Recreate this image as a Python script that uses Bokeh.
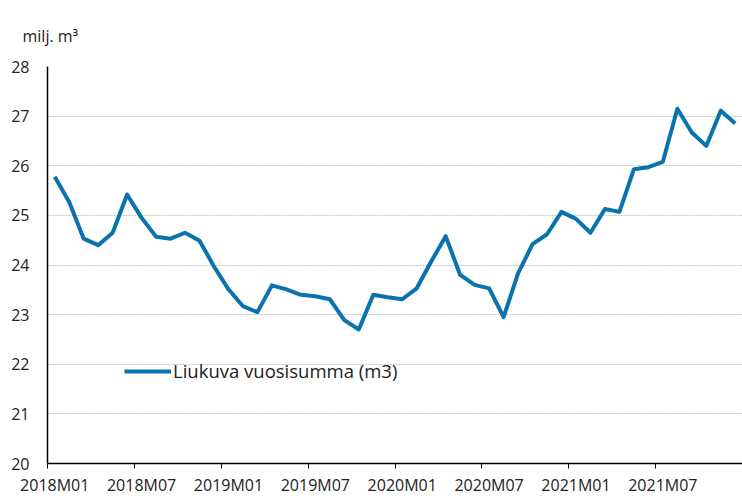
from bokeh.plotting import figure
from bokeh.models import FixedTicker, Range1d
from bokeh.embed import file_html
from bokeh.resources import INLINE

# --- data -------------------------------------------------------------
tick_labels = ["2018M01", "2018M07", "2019M01", "2019M07",
               "2020M01", "2020M07", "2021M01", "2021M07"]
values = [
    # 2018
    25.78, 25.27, 24.53, 24.40, 24.65, 25.42, 24.95, 24.57, 24.53, 24.65, 24.49, 23.97,
    # 2019
    23.51, 23.17, 23.05, 23.59, 23.51, 23.40, 23.37, 23.31, 22.89, 22.70, 23.40, 23.35,
    # 2020
    23.31, 23.53, 24.07, 24.58, 23.80, 23.60, 23.53, 22.95, 23.83, 24.42, 24.62, 25.07,
    # 2021
    24.93, 24.65, 25.13, 25.07, 25.93, 25.97, 26.08, 27.15, 26.67, 26.40, 27.11, 26.85,
]
series_name = "Liukuva vuosisumma (m3)"
y_ticks = [20, 21, 22, 23, 24, 25, 26, 27, 28]
unit_text = "milj. m\u00b3"

x = list(range(len(values)))
label_pos = [i * 6 for i in range(len(tick_labels))]
boundary_pos = [i * 6 - 0.5 for i in range(len(tick_labels))]

FONT = "Open Sans"
TXT = "#222222"
LINE = "#0a72ad"

p = figure(width=742, height=498, output_backend="svg", toolbar_location=None,
           x_range=Range1d(-0.5, len(values) - 0.5), y_range=Range1d(20, 28),
           min_border_left=47, min_border_right=0, min_border_top=66,
           min_border_bottom=30)
p.outline_line_color = None
p.background_fill_color = "white"
p.border_fill_color = "white"

p.line(x, values, line_color=LINE, line_width=4, line_join="round",
       legend_label=series_name)

# unit text as title
p.title.text = unit_text
p.title.align = "left"
p.title.vertical_align = "bottom"
p.title.offset = -25
p.title.standoff = 40
p.title.text_font = FONT
p.title.text_font_size = "16px"
p.title.text_font_style = "normal"
p.title.text_color = TXT

# x axis
xa = p.xaxis[0]
xa.ticker = FixedTicker(ticks=label_pos, minor_ticks=boundary_pos)
xa.major_label_overrides = {pos: lab for pos, lab in zip(label_pos, tick_labels)}
xa.major_tick_out = 0
xa.major_tick_in = 0
xa.minor_tick_out = 5
xa.minor_tick_in = 0
xa.minor_tick_line_color = "black"
xa.axis_line_color = "black"
xa.axis_line_width = 1.5
xa.major_label_standoff = 5
xa.major_label_text_font = FONT
xa.major_label_text_font_size = "16px"
xa.major_label_text_color = TXT

# y axis
ya = p.yaxis[0]
ya.ticker = FixedTicker(ticks=y_ticks)
ya.major_tick_out = 0
ya.major_tick_in = 0
ya.minor_tick_out = 0
ya.minor_tick_in = 0
ya.axis_line_color = "black"
ya.axis_line_width = 1.5
ya.major_label_standoff = 18
ya.major_label_text_font = FONT
ya.major_label_text_font_size = "16px"
ya.major_label_text_color = TXT

# grid
p.xgrid.grid_line_color = None
p.ygrid.ticker = FixedTicker(ticks=y_ticks)
p.ygrid.grid_line_color = "#c4c4c4"
p.ygrid.grid_line_dash = "2 1"
p.ygrid.grid_line_width = 1

# legend
lg = p.legend[0]
lg.location = (77, 80)
lg.label_text_font = FONT
lg.label_text_font_size = "18.5px"
lg.label_text_color = TXT
lg.glyph_width = 47
lg.glyph_height = 20
lg.label_height = 20
lg.label_standoff = 2
lg.padding = 0
lg.spacing = 0
lg.margin = 0
lg.border_line_color = None
lg.background_fill_alpha = 0

open("out.html", "w").write(file_html(p, INLINE))
